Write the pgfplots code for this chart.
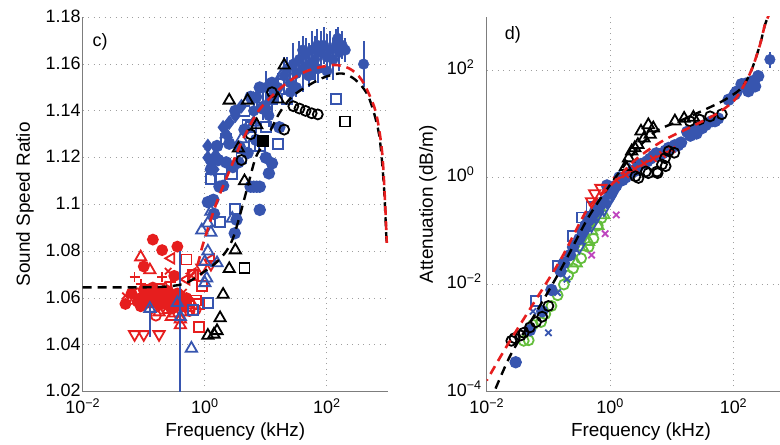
\documentclass[border=0pt]{standalone}
\usepackage{fontspec}
\setmainfont{Liberation Sans}
\usepackage{pgfplots}
\pgfplotsset{compat=1.18}
\definecolor{mred}{RGB}{230,30,30}
\definecolor{mblue}{RGB}{55,85,175}
\definecolor{mgreen}{RGB}{100,190,60}
\definecolor{mmag}{RGB}{190,70,190}
\definecolor{axgray}{RGB}{125,125,125}
\begin{document}
\begin{tikzpicture}
\path[use as bounding box] (0,0) rectangle (780bp,445bp);
% ---------------- left panel c) ----------------
\begin{axis}[scale only axis, xmode=log, clip marker paths=true,
  axis x line*=bottom, axis y line*=left,
  axis line style={-, draw=axgray, line width=1.1bp},
  major tick length=0pt, minor tick length=0pt,
  xmajorgrids, ymajorgrids,
  major grid style={draw=gray!75, line width=0.9bp, dash pattern=on 1bp off 4.5bp},
  tick label style={font=\fontsize{18}{20}\selectfont},
  label style={font=\fontsize{19}{21}\selectfont},
  xmin=0.01, xmax=1000,
  xtick={0.01,1,100},
  xticklabels={10\textsuperscript{−2},10\textsuperscript{0},10\textsuperscript{2}},
  xticklabel style={inner ysep=6.5bp},
  xlabel={Frequency (kHz)},
  xlabel style={at={(axis description cs:0.5,-0.107)}, anchor=center},
  at={(82.7bp,53.3bp)}, anchor=south west,
  width=305.3bp, height=374.4bp,
  ymin=1.02, ymax=1.18,
  ytick={1.02,1.04,1.06,1.08,1.1,1.12,1.14,1.16,1.18},
  yticklabels={1.02,1.04,1.06,1.08,1.1,1.12,1.14,1.16,1.18},
  yticklabel style={inner xsep=2bp, yshift=1bp},
  ylabel={Sound Speed Ratio},
  ylabel style={at={(axis description cs:-0.189,0.5)}, anchor=center}]
% red data
\addplot[only marks, mark size=5bp, mark options={line width=1.8bp, solid}, mark=*, color=mred] coordinates {
(0.0501,1.0575)(0.141,1.085)(0.200,1.0805)(0.355,1.082)(0.1,1.0735)(0.316,1.0695)
(0.158,1.062)(0.200,1.059)(0.141,1.0585)(0.251,1.0585)(0.355,1.062)(0.0891,1.060)
(0.112,1.058)(0.178,1.057)(0.282,1.0555)(0.398,1.057)(0.501,1.060)(0.1,1.0635)
(0.224,1.0615)(0.126,1.0605)(0.251,1.063)(0.178,1.0605)(0.141,1.0645)(0.316,1.0595)
(0.0631,1.062)(0.0794,1.0585)(0.224,1.0575)(0.282,1.0605)(0.398,1.0595)(0.158,1.0595)
(0.447,1.0565)(0.112,1.0615)(0.2,1.0625)(0.0891,1.0565)};
\addplot[only marks, mark size=6.5bp, mark options={line width=1.8bp, solid}, mark=triangle, color=mred] coordinates {
(0.0891,1.0775)(0.126,1.072)(0.282,1.052)(0.398,1.051)(0.398,1.0485)(0.251,1.055)
(0.178,1.054)(0.501,1.058)(0.0708,1.059)(0.224,1.064)(0.316,1.0535)(0.447,1.054)(0.141,1.0575)(0.631,1.057)};
\addplot[only marks, mark size=6.5bp, mark=triangle, color=mred, mark options={line width=1.8bp, solid, rotate=180}] coordinates {
(0.0708,1.0445)(0.1,1.0445)(0.178,1.0445)(1.259,1.0745)(0.891,1.073)};
\addplot[only marks, mark size=6bp, mark=triangle, color=mred, mark options={line width=1.8bp, solid, rotate=90}] coordinates {
(0.282,1.077)(0.631,1.0705)(1.259,1.0765)(0.501,1.068)};
\addplot[only marks, mark size=5bp, mark options={line width=1.8bp, solid}, mark=square, color=mred] coordinates {
(0.501,1.0765)(0.447,1.059)(0.708,1.059)(0.794,1.0475)(0.562,1.0565)(0.891,1.065)
(0.112,1.0635)(0.631,1.070)(0.794,1.0575)(0.355,1.0595)(0.178,1.064)};
\addplot[only marks, mark size=5bp, mark options={line width=1.8bp, solid}, mark=o, color=mred] coordinates {
(0.158,1.0525)(0.708,1.055)(0.316,1.056)(0.0794,1.062)(0.562,1.0545)};
\addplot[only marks, mark size=5bp, mark options={line width=1.8bp, solid}, mark=+, color=mred] coordinates {
(0.0708,1.069)(0.200,1.069)(0.126,1.064)(0.282,1.067)(0.0891,1.066)};
\addplot[only marks, mark size=4.5bp, mark options={line width=1.8bp, solid}, mark=x, color=mred] coordinates {
(0.0501,1.061)(0.251,1.0715)(0.447,1.0625)(0.141,1.0605)};
% blue data
\addplot[only marks, mark=triangle, color=mblue, mark size=6.5bp, mark options={line width=1.8bp, solid},
  error bars/.cd, y dir=both, y explicit, error mark=none, error bar style={line width=2bp}] coordinates {
(0.398,1.052) += (0,0.028) -= (0,0.04)
(0.126,1.0555) += (0,0.001) -= (0,0.012)};
\addplot[only marks, mark size=6.5bp, mark options={line width=1.8bp, solid}, mark=triangle, color=mblue] coordinates {
(1.072,1.0685)(1,1.0665)(0.603,1.0385)(1.122,1.092)(1.259,1.088)(0.891,1.089)
(2.818,1.094)(1.585,1.075)(3.981,1.128)(6.310,1.135)(10,1.142)(17.78,1.155)(0.355,1.058)(1,1.0755)
(1.122,1.080)(1.259,1.097)(2.239,1.13)(6.310,1.145)};
\addplot[only marks, mark size=5bp, mark options={line width=1.8bp, solid}, mark=square, color=mblue] coordinates {
(1.122,1.058)(1.778,1.0925)(3.162,1.098)(1.778,1.111)(2.818,1.113)(5.623,1.133)(10,1.133)
(15.85,1.126)(22.39,1.145)(141.3,1.145)(0.631,1.055)(7.943,1.125)(3.981,1.12)
(1.259,1.111)(2.239,1.128)(4.467,1.140)(12.59,1.145)(6.310,1.125)(5.012,1.134)};
\addplot[only marks, mark size=5.3bp, mark options={line width=1.8bp, solid}, mark=*, color=mblue] coordinates {
(1.380,1.102)(7.943,1.0977)(3.311,1.0935)(7.943,1.1076)(5.623,1.1076)(6.310,1.1076)(7.079,1.1076)
(1.738,1.1076)(1.660,1.119)(11.22,1.1133)(12.59,1.1176)(10,1.120)(3.715,1.1247)(2.884,1.116)
(6.918,1.1276)(16.60,1.133)(3.09,1.0877)
(1.259,1.115)(1.585,1.125)(2.239,1.118)(2.512,1.126)(4.467,1.132)(5.012,1.122)(3.548,1.118)
(1.995,1.108)(8.913,1.141)(12.59,1.152)(14.13,1.148)(3.162,1.140)(5.623,1.146)(7.943,1.150)
(1.122,1.101)(1.413,1.096)};
\addplot[only marks, mark size=6bp, mark options={line width=1.8bp, solid}, mark=diamond*, color=mblue] coordinates {
(1.122,1.12)(1.259,1.118)(1.413,1.115)(1.995,1.133)(2.512,1.135)(3.162,1.138)(3.981,1.142)
(2.239,1.13)(1.122,1.125)(1.5,1.121)};
\addplot[only marks, mark=*, color=mblue, mark size=5.3bp,
  error bars/.cd, y dir=both, y explicit, error mark=none, error bar style={line width=2bp}] coordinates {
(15.85,1.150) +- (0,0.006) (19.95,1.155) +- (0,0.008) (22.39,1.158) +- (0,0.005)
(25.12,1.152) +- (0,0.007) (28.18,1.160) +- (0,0.009) (31.62,1.156) +- (0,0.006)
(35.48,1.162) +- (0,0.008) (39.81,1.158) +- (0,0.010) (44.67,1.164) +- (0,0.007)
(50.12,1.160) +- (0,0.009) (56.23,1.166) +- (0,0.008) (63.10,1.162) +- (0,0.010)
(70.79,1.158) +- (0,0.006) (79.43,1.165) +- (0,0.009) (89.13,1.168) +- (0,0.008)
(100,1.163) +- (0,0.010) (112.2,1.166) +- (0,0.008) (125.9,1.162) +- (0,0.009)
(141.3,1.168) +- (0,0.007) (158.5,1.165) +- (0,0.008) (177.8,1.168) +- (0,0.006)
(199.5,1.166) +- (0,0.005) (31.62,1.150) +- (0,0.004) (50.12,1.155) +- (0,0.005)
(100,1.157) +- (0,0.004) (25.12,1.148) +- (0,0.005) (8.913,1.142) +- (0,0.006)
(11.22,1.138) +- (0,0.005) (12.59,1.145) +- (0,0.006) (7.079,1.146) +- (0,0.006)
(398.1,1.160) +- (0,0.010) (6.310,1.140) +- (0,0.005) (10,1.150) +- (0,0.007)
(40,1.166) +- (0,0.006) (70,1.168) +- (0,0.007) (150,1.171) +- (0,0.005) (60,1.158) +- (0,0.005)};
% black data
\addplot[only marks, mark size=6.5bp, mark options={line width=1.8bp, solid}, mark=triangle, color=black] coordinates {
(3.162,1.0805)(2.512,1.0725)(1.995,1.0615)(1.778,1.0515)(1.585,1.046)(1.122,1.044)(1.413,1.0445)
(2.512,1.1445)(5.012,1.1445)(19.95,1.1595)(4.467,1.110)(3.548,1.124)(7.079,1.134)(15.85,1.145)};
\addplot[only marks, mark size=5bp, mark options={line width=1.8bp, solid}, mark=square, color=black] coordinates {(4.467,1.073)(199.5,1.1355)};
\addplot[only marks, mark size=5bp, mark options={line width=1.8bp, solid}, mark=square*, color=black] coordinates {(8.913,1.127)};
\addplot[only marks, mark size=5bp, mark options={line width=1.8bp, solid}, mark=o, color=black] coordinates {
(19.95,1.132)(28.18,1.142)(35.48,1.141)(44.67,1.140)(56.23,1.139)(70.79,1.1385)
(3.981,1.119)(5.623,1.130)(12.59,1.148)};
% model curves
\addplot[black, line width=2.4bp, dash pattern=on 9bp off 6bp, smooth, mark=none] coordinates {
(0.01,1.0646)(0.1,1.0646)(0.251,1.0650)(0.501,1.0665)(1,1.0715)(1.585,1.0755)(2.239,1.080)(2.884,1.0855)
(3.715,1.0949)(5.370,1.1105)(6.918,1.1205)(10,1.1276)(16.60,1.139)(26.92,1.1461)(51.29,1.1511)
(95.50,1.1546)(177.8,1.156)(295.1,1.1532)(478.6,1.1461)(707.9,1.1305)(851.1,1.1091)(933.3,1.0878)(955,1.083)};
\addplot[mred, line width=2.6bp, dash pattern=on 9bp off 6bp, dash phase=7.5bp, smooth, mark=none] coordinates {
(0.447,1.067)(0.708,1.072)(0.933,1.083)(1.549,1.1006)(2.570,1.1148)(4.169,1.1276)(7.762,1.1404)
(18.62,1.1504)(44.67,1.1568)(123.0,1.1596)(229.1,1.1582)(371.5,1.1532)(616.6,1.1404)
(794.3,1.1233)(891.3,1.102)(955,1.0836)};
\node[font=\fontsize{18}{20}\selectfont] at (axis description cs:0.057,0.934) {c)};
\end{axis}
% ---------------- right panel d) ----------------
\begin{axis}[scale only axis, xmode=log, ymode=log, clip marker paths=true,
  axis x line*=bottom, axis y line*=left,
  axis line style={-, draw=axgray, line width=1.1bp},
  major tick length=0pt, minor tick length=0pt,
  xmajorgrids, ymajorgrids,
  major grid style={draw=gray!75, line width=0.9bp, dash pattern=on 1bp off 4.5bp},
  tick label style={font=\fontsize{18}{20}\selectfont},
  label style={font=\fontsize{19}{21}\selectfont},
  xmin=0.01, xmax=1000,
  xtick={0.01,1,100},
  xticklabels={10\textsuperscript{−2},10\textsuperscript{0},10\textsuperscript{2}},
  xticklabel style={inner ysep=6.5bp},
  xlabel={Frequency (kHz)},
  xlabel style={at={(axis description cs:0.5,-0.107)}, anchor=center},
  at={(486.7bp,53.3bp)}, anchor=south west,
  width=308.5bp, height=375bp,
  ymin=1e-4, ymax=1e3,
  ytick={1e-4,1e-2,1,1e2},
  yticklabels={10\textsuperscript{−4},10\textsuperscript{−2},10\textsuperscript{0},10\textsuperscript{2}},
  yticklabel style={anchor=west, xshift=-40bp, yshift=3bp, inner xsep=0pt},
  ylabel={Attenuation (dB/m)},
  ylabel style={at={(axis description cs:-0.190,0.5)}, anchor=center}]
\addplot[only marks, mark size=5bp, mark options={line width=1.8bp, solid}, mark=o, color=mgreen] coordinates {
(0.0479,9.12e-4)(0.0759,1.995e-3)(0.141,6.31e-3)(0.209,0.01479)(0.339,0.0309)(0.537,0.07244)
(0.724,0.1738)(0.0398,8.913e-4)(0.0562,1.778e-3)(0.0891,2.818e-3)(0.112,3.981e-3)(0.178,0.01)
(0.251,0.02)(0.447,0.05012)(0.631,0.1259)};
\addplot[only marks, mark size=6.5bp, mark options={line width=1.8bp, solid}, mark=triangle, color=mgreen] coordinates {
(0.355,0.05012)(0.501,0.1)(0.631,0.1259)(0.794,0.1995)(0.282,0.02512)(0.447,0.0631)};
\addplot[only marks, mark size=4.5bp, mark options={line width=1.8bp, solid}, mark=x, color=mmag] coordinates {(1.259,0.1995)(0.832,0.08913)(0.501,0.03548)};
\addplot[only marks, mark size=5.3bp, mark options={line width=1.8bp, solid}, mark=*, color=mblue] coordinates {
(0.0295,3.548e-4)(0.0501,1.413e-3)(0.0794,3.162e-3)(0.112,7.943e-3)(0.158,0.01778)(0.224,0.03548)
(0.316,0.07079)(0.398,0.1259)(0.501,0.1778)(0.631,0.2512)(0.794,0.3548)(1,0.5012)(1.259,0.7079)
(1.585,0.8913)(1.995,1.122)(3.162,1.778)(5.012,2.512)(7.943,3.162)(12.59,3.981)(10,3.548)
(6.310,2.630)(3.981,1.995)(2.512,1.318)(0.891,0.7079)(1.413,1)
(0.178,0.02512)(0.251,0.05012)(0.355,0.1)(0.447,0.1585)(0.562,0.2239)(0.708,0.3162)(1.122,0.631)
(1.778,1.0)(2.239,1.259)(2.818,1.585)(4.467,2.239)(5.623,2.818)(7.079,2.818)(8.913,3.548)(11.22,3.981)(14.13,4.467)
(83.18,28.18)(134.9,54.95)(199.5,61.66)(251.2,77.62)(173.8,40.74)(104.7,35.48)(50.12,11.22)
(30.90,8.318)(20.89,7.244)(17.78,7.079)(22.39,7.586)(28.18,8.913)(35.48,9.550)(44.67,11.22)
(56.23,12.59)(19.95,6.026)(25.12,6.607)(223.9,50.12)(158.5,56.23)(112.2,39.81)};
\addplot[only marks, mark=*, color=mblue, mark size=5.3bp,
  error bars/.cd, y dir=both, y explicit, error mark=none, error bar style={line width=2bp}] coordinates {
(389.0,158.5) += (0,65) -= (0,46)};
\addplot[only marks, mark size=5bp, mark options={line width=1.8bp, solid}, mark=square, color=mblue] coordinates {
(0.0631,5.012e-3)(0.141,0.02239)(0.251,0.07943)(0.355,0.1778)(0.501,0.2818)};
\addplot[only marks, mark size=4.5bp, mark options={line width=1.8bp, solid}, mark=x, color=mblue] coordinates {
(0.1,1.259e-3)(0.141,7.079e-3)(0.0562,3.162e-3)(0.2,0.01259)(0.631,0.3162)(2.239,1.585)(1,0.7079)};
\addplot[only marks, mark size=6.5bp, mark=triangle, color=mblue, mark options={line width=1.8bp, solid, rotate=180}] coordinates {
(0.501,0.1259)(0.794,0.2512)(1,0.3981)(0.316,0.05012)(0.398,0.1)(0.631,0.2)(0.891,0.3548)(1.122,0.5)};
\addplot[only marks, mark size=6.5bp, mark=triangle, color=mred, mark options={line width=1.8bp, solid, rotate=180}] coordinates {
(0.562,0.5012)(0.501,0.3548)(0.708,0.631)};
\addplot[mred, line width=1.8bp, mark=x, mark size=4.5bp, mark options={solid}] coordinates {
(1.259,0.8913)(1.778,1.122)(2.512,1.445)(3.548,1.820)(5.012,2.239)(7.079,2.692)(10,3.311)};
\addplot[only marks, mark size=5bp, mark options={line width=1.8bp, solid}, mark=o, color=black] coordinates {
(0.0282,1e-3)(0.0398,1.259e-3)(0.0501,1.585e-3)(0.0631,1.995e-3)(0.0794,2.512e-3)(0.0355,1.122e-3)
(0.1,3.981e-3)(0.0251,8.913e-4)
(2.570,1.047)(2.884,0.977)(3.802,1.288)(4.169,1.202)(5.888,1.202)(5.754,1.288)(6.918,1.738)
(7.762,2.291)(8.913,3.090)(7.943,1.622)(10.96,2.884)(19.50,11.22)(28.18,12.02)(41.69,13.80)(64.57,15.14)};
\addplot[only marks, mark size=6.5bp, mark options={line width=1.8bp, solid}, mark=triangle, color=black] coordinates {
(1.995,2.291)(2.239,3.090)(2.818,4.074)(3.548,5.370)(3.162,7.244)(4.169,9.550)(4.467,6.310)
(2.512,3.548)(5.012,8.318)(11.22,11.22)(15.85,12.59)(22.39,13.18)(1.778,1.585)};
% model curves
\addplot[black, line width=2.4bp, dash pattern=on 9bp off 6bp, smooth, mark=none] coordinates {
(0.01122,6.31e-5)(0.02399,4.677e-4)(0.05888,2.630e-3)(0.1622,0.01995)(0.4365,0.1738)(1,0.7244)
(2.570,3.090)(5.495,7.244)(15.14,12.02)(39.81,19.95)(72.44,28.18)(134.9,46.77)(195.0,100)
(269.2,302.0)(323.6,707.9)(398.1,1259)};
\addplot[mred, line width=2.6bp, dash pattern=on 9bp off 6bp, dash phase=7.5bp, smooth, mark=none] coordinates {
(0.01,1.622e-4)(0.02138,7.244e-4)(0.05888,4.677e-3)(0.1622,0.03090)(0.4365,0.2630)(0.9333,0.631)
(2.570,2.138)(7.079,4.786)(18.62,8.318)(50.12,14.79)(93.33,24.55)(125.9,38.02)(195.0,100)
(269.2,302.0)(323.6,707.9)(398.1,1259)};
\node[font=\fontsize{18}{20}\selectfont] at (axis description cs:0.085,0.951) {d)};
\end{axis}
\end{tikzpicture}
\end{document}
